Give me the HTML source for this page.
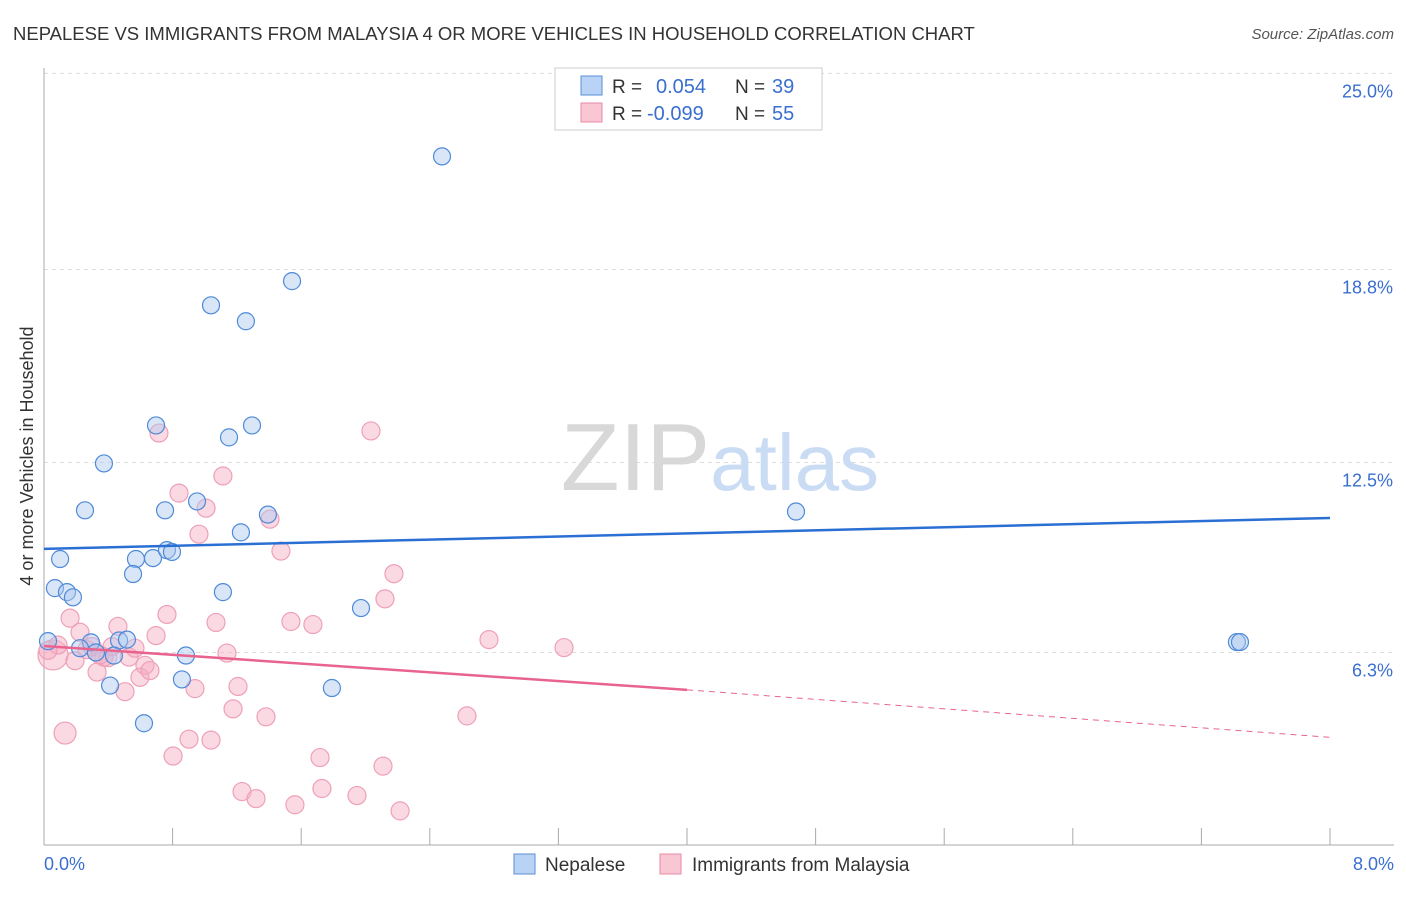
<!DOCTYPE html>
<html><head><meta charset="utf-8"><style>
body{margin:0;background:#fff;font-family:"Liberation Sans",sans-serif;}
svg text{font-family:"Liberation Sans",sans-serif;}
</style></head><body>
<svg id="chart" width="1406" height="892" xmlns="http://www.w3.org/2000/svg">
<text x="13" y="40" font-size="18.5" fill="#333">NEPALESE VS IMMIGRANTS FROM MALAYSIA 4 OR MORE VEHICLES IN HOUSEHOLD CORRELATION CHART</text>
<text x="1394" y="39" font-size="15" fill="#555" text-anchor="end" font-style="italic">Source: ZipAtlas.com</text>
<g id="grid"></g>
<text x="720" y="490" font-size="96" text-anchor="middle" fill="#ddd" font-family="Liberation Serif"><tspan fill="#d8d8d8">ZIP</tspan><tspan fill="#c9dcf4" font-family="Liberation Sans" font-size="80">atlas</tspan></text>
<g id="points"></g>
<g id="trends"></g>
<text transform="translate(33,456) rotate(-90)" font-size="18" fill="#333" text-anchor="middle">4 or more Vehicles in Household</text>
<g>
<rect x="555" y="68" width="267" height="62" fill="#fff" stroke="#ccc"/>
<rect x="581" y="76" width="21" height="19" fill="#b8d3f5" stroke="#5b8fd6"/>
<rect x="581" y="103" width="21" height="19" fill="#f9c6d4" stroke="#e88aa6"/>
<text x="612" y="93" font-size="19" fill="#333">R =</text>
<text x="656" y="93" font-size="20" fill="#3a6fd0">0.054</text>
<text x="735" y="93" font-size="19" fill="#333">N =</text>
<text x="772" y="93" font-size="20" fill="#3a6fd0">39</text>
<text x="612" y="120" font-size="19" fill="#333">R =</text>
<text x="647" y="120" font-size="20" fill="#3a6fd0">-0.099</text>
<text x="735" y="120" font-size="19" fill="#333">N =</text>
<text x="772" y="120" font-size="20" fill="#3a6fd0">55</text>
</g>
<g>
<rect x="514" y="854" width="21" height="20" fill="#b8d3f5" stroke="#5b8fd6"/>
<text x="545" y="871" font-size="19" fill="#333">Nepalese</text>
<rect x="660" y="854" width="21" height="20" fill="#f9c6d4" stroke="#e88aa6"/>
<text x="692" y="871" font-size="19" fill="#333">Immigrants from Malaysia</text>
</g>
</svg>
<script>
const yTicks=[6.3,12.5,18.8,25.0];
const yTickLabels=["6.3%","12.5%","18.8%","25.0%"];
const xTickLabels=["0.0%","8.0%"];
const blueX=[2.476,1.543,1.039,1.256,0.697,1.294,1.151,0.373,0.255,0.753,0.952,1.393,1.225,4.678,0.100,0.572,0.678,0.765,0.796,0.554,0.068,0.143,0.180,1.113,1.972,0.025,0.292,0.224,0.323,0.467,0.516,0.435,0.883,0.858,0.411,1.791,0.622,7.421,7.440];
const blueY=[22.49,18.42,17.63,17.11,13.71,13.71,13.32,12.47,10.94,10.94,11.23,10.80,10.22,10.90,9.35,9.35,9.38,9.64,9.58,8.86,8.40,8.27,8.10,8.27,7.75,6.67,6.63,6.44,6.30,6.69,6.72,6.20,6.20,5.42,5.22,5.14,3.99,6.64,6.64];
const pinkX=[0.056,0.087,0.131,0.162,0.193,0.224,0.267,0.299,0.330,0.373,0.398,0.423,0.460,0.504,0.529,0.566,0.597,0.628,0.659,0.697,0.715,0.765,0.803,0.840,0.902,0.939,0.964,1.008,1.039,1.070,1.113,1.138,1.176,1.207,1.232,1.319,1.381,1.406,1.474,1.536,1.561,1.673,1.717,1.729,1.947,2.034,2.109,2.121,2.177,2.215,2.631,2.768,3.235,0.025,0.348];
const pinkY=[6.22,6.54,3.67,7.42,6.03,6.96,6.39,6.49,5.66,6.15,6.13,6.49,7.15,5.02,6.15,6.44,5.49,5.88,5.71,6.85,13.46,7.54,2.92,11.50,3.47,5.12,10.16,11.01,3.44,7.28,12.06,6.28,4.46,5.19,1.76,1.53,4.20,10.65,9.61,7.31,1.33,7.21,2.87,1.86,1.63,13.53,2.59,8.05,8.87,1.13,4.23,6.72,6.46,6.37,6.22];
const W=160.75, X0=44, Y0=845.5, H=30.64;
const sx=v=>X0+v*W, sy=v=>Y0-v*H;
const NS="http://www.w3.org/2000/svg";
function mk(t,a,p){const e=document.createElementNS(NS,t);for(const k in a)e.setAttribute(k,a[k]);p.appendChild(e);return e;}
const grid=document.getElementById('grid');
yTicks.forEach((t,i)=>{
 const v=(t===25?25.2:t);
 const g=mk('line',{x1:44,x2:1394,y1:sy(v),y2:sy(v),stroke:'#ddd','stroke-dasharray':'4,4'},grid);
 
 
 const tx=mk('text',{x:1393,y:sy(v)+24,'font-size':18,fill:'#3a6fd0','text-anchor':'end'},grid);
 tx.textContent=yTickLabels[i];
 
 
});
const ax=mk('line',{x1:44,x2:44,y1:68,y2:845,stroke:'#aaa'},grid);


const bx=mk('line',{x1:44,x2:1394,y1:845,y2:845,stroke:'#aaa'},grid);


for(let i=0;i<=10;i++){
 const l=mk('line',{x1:sx(i*0.8),x2:sx(i*0.8),y1:828,y2:845,stroke:'#aaa'},grid);
 
 
}
[[0,'start',44],[8,'end',1394]].forEach((d,i)=>{
 const t=mk('text',{x:d[2],y:870,'font-size':18,fill:'#3a6fd0','text-anchor':d[1]},grid);
 t.textContent=xTickLabels[i];
 
 
});
const pts=document.getElementById('points');
pinkX.forEach((x,i)=>{
 const r=(i===0)?15:(i===2?11:9);
 const c=mk('circle',{cx:sx(x),cy:sy(pinkY[i]),r:r,fill:'rgba(246,170,192,0.45)',stroke:'#eea0b8','stroke-width':1.2},pts);
 
 
});
blueX.forEach((x,i)=>{
 const c=mk('circle',{cx:sx(x),cy:sy(blueY[i]),r:8.5,fill:'rgba(170,200,240,0.45)',stroke:'#4f8ad8','stroke-width':1.2},pts);
 
 
});
const tr=document.getElementById('trends');
const bl=mk('line',{x1:sx(0),y1:sy(9.68),x2:sx(8),y2:sy(10.69),stroke:'#2a6fd4','stroke-width':2.5},tr);


const pl=mk('line',{x1:sx(0),y1:sy(6.51),x2:sx(4),y2:sy(5.08),stroke:'#e8648f','stroke-width':2.5},tr);


const pd=mk('line',{x1:sx(4),y1:sy(5.08),x2:sx(8),y2:sy(3.53),stroke:'#e8648f','stroke-width':1,'stroke-dasharray':'6,5'},tr);


</script>
</body></html>
